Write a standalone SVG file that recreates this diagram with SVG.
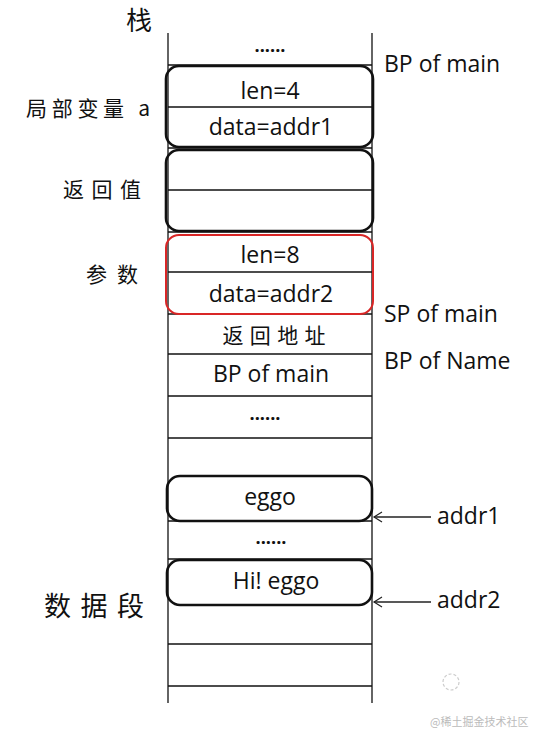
<svg xmlns="http://www.w3.org/2000/svg" width="537" height="734" viewBox="0 0 537 734">
<style>
.col{stroke:#111;stroke-width:1.3;fill:none}
.box{fill:none;stroke:#111;stroke-width:2.6}
.red{fill:none;stroke:#d92626;stroke-width:2}
.t{font-family:"Open Sans","Liberation Sans",sans-serif;font-size:23px;fill:#111}
.c{text-anchor:middle}
.cjk{font-family:"Noto Sans CJK SC","Noto Sans CJK JP",serif;font-size:21px;fill:#111}
.dots{font-family:"Open Sans","Liberation Sans",sans-serif;font-size:18px;font-weight:bold;fill:#111;text-anchor:middle}
.arr{stroke:#222;stroke-width:1.3;fill:none}
</style>
<defs>
<marker id="open" markerWidth="12" markerHeight="12" refX="10" refY="6" orient="auto" markerUnits="userSpaceOnUse">
<path d="M2,1 L10,6 L2,11" fill="none" stroke="#222" stroke-width="1.2"/>
</marker>
</defs>
<rect width="537" height="734" fill="#fff"/>

<g id="stack-column">
<line class="col" x1="168" y1="33" x2="168" y2="703"/>
<line class="col" x1="372" y1="33" x2="372" y2="703"/>
<line class="col" x1="168" y1="65" x2="372" y2="65"/>
<line class="col" x1="168" y1="148" x2="372" y2="148"/>
<line class="col" x1="168" y1="232" x2="372" y2="232"/>
<line class="col" x1="168" y1="314" x2="372" y2="314"/>
<line class="col" x1="168" y1="354" x2="372" y2="354"/>
<line class="col" x1="168" y1="396" x2="372" y2="396"/>
<line class="col" x1="168" y1="438" x2="372" y2="438"/>
<line class="col" x1="168" y1="521" x2="372" y2="521"/>
<line class="col" x1="168" y1="559" x2="372" y2="559"/>
<line class="col" x1="168" y1="644" x2="372" y2="644"/>
<line class="col" x1="168" y1="686" x2="372" y2="686"/>
</g>

<g id="title-stack"><text class="cjk" x="126" y="30" style="font-size:26px">栈</text></g>

<g id="row-dots-top"><text class="dots" x="270" y="52">......</text></g>

<g id="local-var-a">
<rect class="box" x="166" y="66" width="207" height="81" rx="13"/>
<line class="col" x1="168" y1="107" x2="372" y2="107"/>
<text class="t c" x="270" y="99">len=4</text>
<text class="t c" x="271" y="135">data=addr1</text>
<text class="cjk" x="26" y="116" textLength="124" lengthAdjust="spacing">局部变量 a</text>
</g>

<g id="return-value">
<rect class="box" x="166" y="150" width="207" height="81" rx="13"/>
<line class="col" x1="168" y1="190" x2="372" y2="190"/>
<text class="cjk" x="63" y="197" textLength="78" lengthAdjust="spacing">返回值</text>
</g>

<g id="params">
<rect class="red" x="166" y="235" width="207" height="79" rx="13"/>
<line class="col" x1="168" y1="272" x2="372" y2="272"/>
<text class="t c" x="270" y="263">len=8</text>
<text class="t c" x="271" y="302">data=addr2</text>
<text class="cjk" x="86" y="282" textLength="52" lengthAdjust="spacing">参数</text>
</g>

<g id="return-addr"><text class="cjk c" x="274" y="343" textLength="103" lengthAdjust="spacing">返回地址</text></g>
<g id="saved-bp"><text class="t c" x="271" y="382">BP of main</text></g>
<g id="row-dots-mid"><text class="dots" x="265" y="420">......</text></g>

<g id="str-eggo">
<rect class="box" x="167" y="476" width="205" height="45" rx="13"/>
<text class="t c" x="270" y="505">eggo</text>
</g>
<g id="row-dots-data"><text class="dots" x="271" y="544">......</text></g>
<g id="str-hi-eggo">
<rect class="box" x="167" y="560" width="205" height="45" rx="13"/>
<text class="t c" x="276" y="589">Hi! eggo</text>
</g>
<g id="data-seg"><text class="cjk" x="44" y="616" style="font-size:27px" textLength="100" lengthAdjust="spacing">数据段</text></g>

<g id="labels-right">
<text class="t" x="384" y="72">BP of main</text>
<text class="t" x="384" y="322">SP of main</text>
<text class="t" x="384" y="369">BP of Name</text>
<text class="t" x="437" y="524">addr1</text>
<text class="t" x="437" y="608">addr2</text>
</g>

<g id="connectors">
<line class="arr" x1="431" y1="517" x2="374" y2="517" marker-end="url(#open)"/>
<line class="arr" x1="431" y1="602" x2="374" y2="602" marker-end="url(#open)"/>
</g>

<g id="watermark">
<circle cx="451" cy="682" r="8" fill="none" stroke="#ccc" stroke-width="1.2" stroke-dasharray="3 2"/>
<text x="430" y="726" style="font-family:'Noto Sans CJK SC',sans-serif;font-size:11px;fill:#bbb">@稀土掘金技术社区</text>
</g>
</svg>
